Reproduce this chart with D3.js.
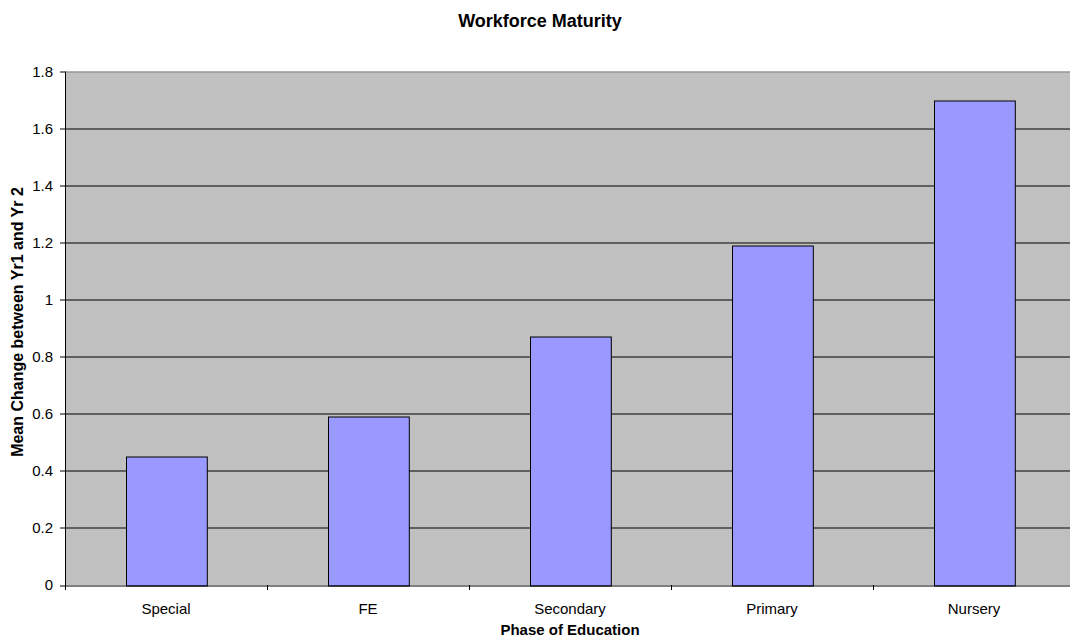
<!DOCTYPE html>
<html>
<head>
<meta charset="utf-8">
<script src="https://cdn.jsdelivr.net/npm/d3@7"></script>
<style>
	body { margin: 0; background: #fff; }
	text { font-family: "Liberation Sans", Arial, sans-serif; fill: #000; }
</style>
</head>
<body>
<div id="root"></div>
<script>
const width = 1070;
const height = 643;

// data
const categories = ["Special", "FE", "Secondary", "Primary", "Nursery"];
const values = [0.45, 0.59, 0.87, 1.19, 1.70];
const yTicks = [0, 0.2, 0.4, 0.6, 0.8, 1, 1.2, 1.4, 1.6, 1.8];

const margin = { left: 65, top: 71.5, right: -5, bottom: 58 };
const plotW = width - margin.left - margin.right;
const plotH = height - margin.top - margin.bottom;

const svg = d3.select("#root")
	.append("svg")
		.attr("width", width)
		.attr("height", height);

const x = d3.scaleBand()
	.domain(categories)
	.range([0, plotW])
	.paddingInner(0.6)
	.paddingOuter(0.3);

const y = d3.scaleLinear()
	.domain([0, 1.8])
	.range([plotH, 0]);

const g = svg.append("g")
	.attr("transform", `translate(${margin.left}, ${margin.top})`);

// plot background
g.append("rect")
	.attr("width", plotW)
	.attr("height", plotH)
	.style("fill", "#c0c0c0");

// grid
g.selectAll(".grid")
	.data(yTicks.slice(1, -1)).enter()
	.append("line")
		.attr("x1", 0)
		.attr("x2", plotW)
		.attr("y1", d => Math.round(y(d)) + 0.5)
		.attr("y2", d => Math.round(y(d)) + 0.5)
		.style("stroke", "#000")
		.style("stroke-width", 1);

g.append("line")
	.attr("x1", 0).attr("x2", plotW)
	.attr("y1", 0.5).attr("y2", 0.5)
	.style("stroke", "#808080")
	.style("stroke-width", 1);

// bars
const step = x.step();
g.selectAll(".bar")
	.data(values).enter()
	.append("rect")
		.attr("x", (d, i) => Math.round(x(categories[i])) + 0.5)
		.attr("y", d => Math.round(y(d)) + 0.5)
		.attr("width", x.bandwidth())
		.attr("height", d => Math.round(plotH) - Math.round(y(d)))
		.style("fill", "#9999ff")
		.style("stroke", "#000")
		.style("stroke-width", 1);

// y axis
g.append("line")
	.attr("x1", 0.5).attr("x2", 0.5)
	.attr("y1", 0).attr("y2", plotH)
	.style("stroke", "#000");

g.selectAll(".ytick")
	.data(yTicks).enter()
	.append("line")
		.attr("x1", -5).attr("x2", 0)
		.attr("y1", d => Math.round(y(d)) + 0.5)
		.attr("y2", d => Math.round(y(d)) + 0.5)
		.style("stroke", "#000");

g.selectAll(".ylabel")
	.data(yTicks).enter()
	.append("text")
		.attr("x", -12)
		.attr("y", d => y(d))
		.attr("dy", "0.35em")
		.attr("text-anchor", "end")
		.style("font-size", "15px")
		.text(d => d);

// x axis
g.append("line")
	.attr("x1", 0).attr("x2", plotW)
	.attr("y1", Math.round(plotH) + 0.5).attr("y2", Math.round(plotH) + 0.5)
	.style("stroke", "#000");

g.selectAll(".xtick")
	.data(d3.range(categories.length + 1)).enter()
	.append("line")
		.attr("x1", d => Math.round(d * step) + 0.5)
		.attr("x2", d => Math.round(d * step) + 0.5)
		.attr("y1", plotH)
		.attr("y2", plotH + 5)
		.style("stroke", "#000");

g.selectAll(".xlabel")
	.data(categories).enter()
	.append("text")
		.attr("x", d => x(d) + x.bandwidth() / 2)
		.attr("y", plotH + 29)
		.attr("text-anchor", "middle")
		.style("font-size", "15px")
		.text(d => d);

// titles
svg.append("text")
	.attr("x", 540)
	.attr("y", 27)
	.attr("text-anchor", "middle")
	.style("font-size", "18px")
	.style("font-weight", "bold")
	.text("Workforce Maturity");

svg.append("text")
	.attr("x", margin.left + plotW / 2)
	.attr("y", 635)
	.attr("text-anchor", "middle")
	.style("font-size", "15px")
	.style("font-weight", "bold")
	.text("Phase of Education");

svg.append("text")
	.attr("transform", `translate(23, 322) rotate(-90)`)
	.attr("text-anchor", "middle")
	.style("font-size", "16px")
	.style("font-weight", "bold")
	.text("Mean Change between Yr1 and Yr 2");
</script>
</body>
</html>
